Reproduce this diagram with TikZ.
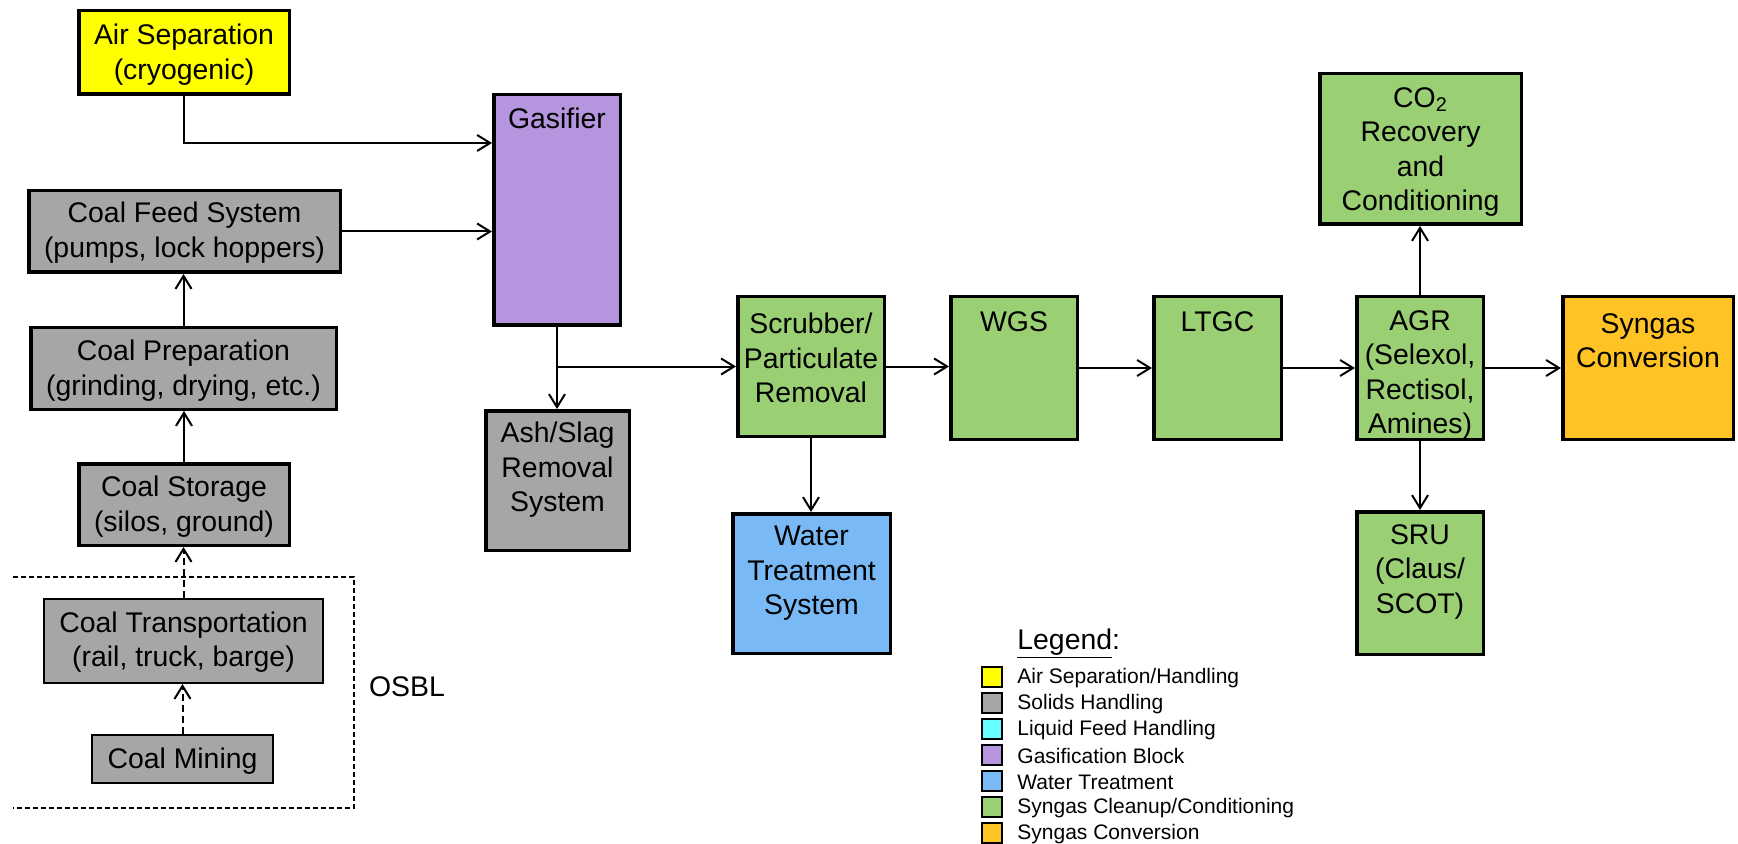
\documentclass[tikz,border=0pt]{standalone}
\usepackage{fontspec}
\setmainfont{Liberation Sans}
\usetikzlibrary{arrows.meta,calc}
\definecolor{cyel}{RGB}{255,255,0}
\definecolor{cgry}{RGB}{166,166,166}
\definecolor{cpur}{RGB}{180,149,222}
\definecolor{cgrn}{RGB}{155,207,116}
\definecolor{cblu}{RGB}{121,186,246}
\definecolor{corg}{RGB}{255,195,37}
\definecolor{ccyn}{RGB}{102,255,255}
\begin{document}
\begin{tikzpicture}[x=0.5pt,y=-0.5pt,
 blk/.style 2 args={draw=black, line width=1.75pt, inner sep=0pt, minimum width=#1*0.5pt, minimum height=#2*0.5pt},
 thinblk/.style 2 args={draw=black, line width=1pt, inner sep=0pt, minimum width=#1*0.5pt, minimum height=#2*0.5pt},
 txt/.style={align=center, inner sep=0pt, font=\fontsize{14.2}{17.25}\selectfont},
 arr/.style={line width=1pt, -{Straight Barb[length=6.5pt,width=8pt]}},
 darr/.style={arr, dash pattern=on 3.5pt off 2pt},
 sw/.style={draw=black, line width=1pt, minimum width=10pt, minimum height=10pt, inner sep=0pt},
 lgt/.style={anchor=west, inner sep=0pt, font=\fontsize{10.5}{12}\selectfont}]
\useasboundingbox (0,0) rectangle (1738,844);

% boxes
\node[blk={210.5}{83.5}, fill=cyel] (air) at (184,52.5) {};
\node[blk={311.5}{81.5}, fill=cgry] (feed) at (184.5,231.5) {};
\node[blk={305.5}{81.5}, fill=cgry] (prep) at (183.5,368.5) {};
\node[blk={210.5}{81.5}, fill=cgry] (stor) at (184,504.5) {};
\node[thinblk={279}{84}, fill=cgry] (trans) at (183.5,641) {};
\node[thinblk={181}{48}, fill=cgry] (mine) at (182.5,759) {};
\node[blk={126.5}{230.5}, fill=cpur] (gas) at (557,210) {};
\node[blk={143.5}{139.5}, fill=cgry] (ash) at (557.5,480.5) {};
\node[blk={146.5}{139.5}, fill=cgrn] (scrub) at (811,366.5) {};
\node[blk={157.5}{139.5}, fill=cblu] (water) at (811.5,583.5) {};
\node[blk={126.5}{142.5}, fill=cgrn] (wgs) at (1014,368) {};
\node[blk={127.5}{142.5}, fill=cgrn] (ltgc) at (1217.5,368) {};
\node[blk={126.5}{142.5}, fill=cgrn] (agr) at (1420,368) {};
\node[blk={201.5}{150.5}, fill=cgrn] (co2) at (1420.5,149) {};
\node[blk={170.5}{142.5}, fill=corg] (syn) at (1648,368) {};
\node[blk={126.5}{142.5}, fill=cgrn] (sru) at (1420,583) {};

% texts
\node[txt] (tair) at (184,54.5) {Air Separation\\(cryogenic)};
\node[txt] (tfeed) at (184.5,232.5) {Coal Feed System\\(pumps, lock hoppers)};
\node[txt] (tprep) at (183.5,370.5) {Coal Preparation\\(grinding, drying, etc.)};
\node[txt] (tstor) at (184,506.5) {Coal Storage\\(silos, ground)};
\node[txt] (ttrans) at (183.5,642) {Coal Transportation\\(rail, truck, barge)};
\node[txt] (tmine) at (182.5,761) {Coal Mining};
\node[txt] (tgas) at (557,118) {Gasifier};
\node[txt] (tash) at (557.5,470) {Ash/Slag\\Removal\\System};
\node[txt] (tscrub) at (811,358) {Scrubber/\\Particulate\\Removal};
\node[txt] (twater) at (811.5,573.5) {Water\\Treatment\\System};
\node[txt] (twgs) at (1014,322) {WGS};
\node[txt] (tltgc) at (1217.5,322) {LTGC};
\node[txt] (tagr) at (1420,375) {AGR\\(Selexol,\\Rectisol,\\Amines)};
\node[txt] (tco2) at (1420.5,152) {CO\textsubscript{2}\\Recovery\\and\\Conditioning};
\node[txt] (tsyn) at (1648,340.5) {Syngas\\Conversion};
\node[txt] (tsru) at (1420,572) {SRU\\(Claus/\\SCOT)};
\node[txt] (tosbl) at (407,687) {OSBL};

% OSBL frame
\draw[line width=1pt, dash pattern=on 2.5pt off 1.5pt] (13,577) -- (354,577) -- (354,808) -- (13,808);

% connectors
\draw[arr] (air.south) |- ($(gas.north west)+(0,50)$);
\draw[arr] (feed.east) -- (feed.east -| gas.west);
\draw[arr] (prep.north) -- (prep.north |- feed.south);
\draw[arr] (stor.north) -- (stor.north |- prep.south);
\draw[darr] (trans.north) -- (trans.north |- stor.south);
\draw[darr] (mine.north) -- (mine.north |- trans.south);
\draw[arr] (gas.south) -- (gas.south |- ash.north);
\draw[arr] (gas.south |- scrub.west) -- (scrub.west);
\draw[arr] (scrub.east) -- (scrub.east -| wgs.west);
\draw[arr] (scrub.south) -- (scrub.south |- water.north);
\draw[arr] (wgs.east) -- (ltgc.west);
\draw[arr] (ltgc.east) -- (agr.west);
\draw[arr] (agr.east) -- (syn.west);
\draw[arr] (agr.north) -- (agr.north |- co2.south);
\draw[arr] (agr.south) -- (sru.north);

% legend
\node[anchor=base west, inner sep=0pt, font=\fontsize{14.2}{17}\selectfont] (lgd) at (1017,649) {\underline{Legend}:};
\node[sw, fill=cyel] (s1) at (991.5,676.5) {};
\node[sw, fill=cgry] (s2) at (991.5,702.5) {};
\node[sw, fill=ccyn] (s3) at (991.5,728.5) {};
\node[sw, fill=cpur] (s4) at (991.5,754.5) {};
\node[sw, fill=cblu] (s5) at (991.5,780.5) {};
\node[sw, fill=cgrn] (s6) at (991.5,806.5) {};
\node[sw, fill=corg] (s7) at (991.5,832.5) {};
\node[lgt] (l1) at (1017,678) {Air Separation/Handling};
\node[lgt] (l2) at (1017,704) {Solids Handling};
\node[lgt] (l3) at (1017,730) {Liquid Feed Handling};
\node[lgt] (l4) at (1017,756) {Gasification Block};
\node[lgt] (l5) at (1017,782) {Water Treatment};
\node[lgt] (l6) at (1017,808) {Syngas Cleanup/Conditioning};
\node[lgt] (l7) at (1017,834) {Syngas Conversion};
\end{tikzpicture}
\end{document}
